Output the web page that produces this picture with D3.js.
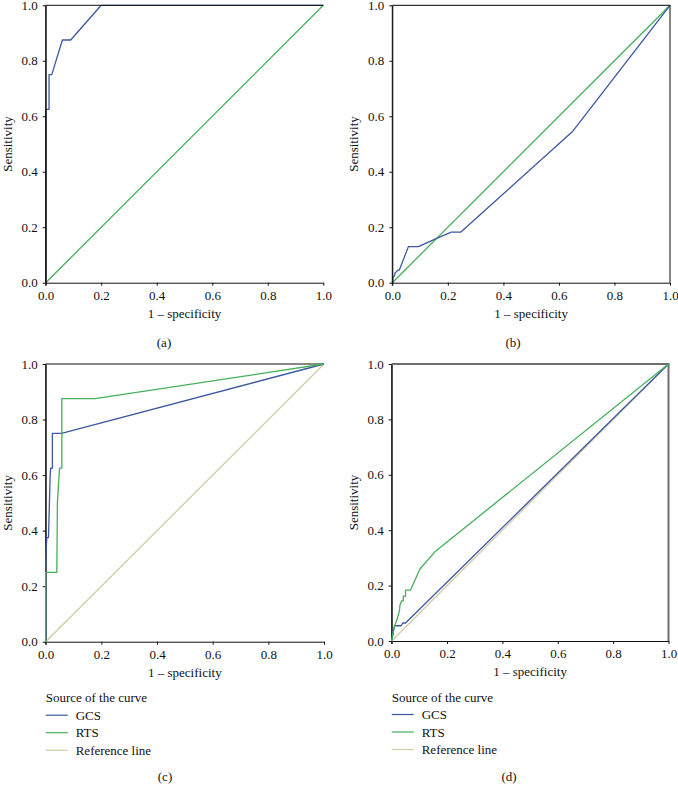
<!DOCTYPE html>
<html>
<head>
<meta charset="utf-8">
<script src="https://cdn.jsdelivr.net/npm/d3@7"></script>
<style>
  html, body { margin: 0; padding: 0; background: #fff; }
  svg { display: block; }
  text { font-family: "Liberation Serif", "DejaVu Serif", serif; fill: #111; }
</style>
</head>
<body>
<svg id="chart" width="678" height="794"></svg>
<script>
// ---------- DATA ----------
const tickValues = [0, 0.2, 0.4, 0.6, 0.8, 1.0];
const xTitle = "1 \u2013 specificity";
const yTitle = "Sensitivity";
const panelLabels = ["(a)", "(b)", "(c)", "(d)"];
const legendTitle = "Source of the curve";
const seriesNames = ["GCS", "RTS", "Reference line"];

// Panel (a): GCS curve + reference diagonal
const a_gcs_fpr = [0, 0, 0.012, 0.012, 0.022, 0.06, 0.09, 0.2, 1];
const a_gcs_tpr = [0, 0.625, 0.625, 0.75, 0.75, 0.875, 0.875, 1, 1];

// Panel (b): RTS curve + reference diagonal
const b_rts_fpr = [0, 0.003, 0.008, 0.01, 0.015, 0.02, 0.025, 0.058, 0.094, 0.16, 0.212, 0.246, 0.648, 1];
const b_rts_tpr = [0, 0.02, 0.025, 0.035, 0.04, 0.045, 0.045, 0.13, 0.13, 0.16, 0.182, 0.182, 0.544, 1];

// Panel (c): GCS and RTS
const c_gcs_fpr = [0, 0, 0.004, 0.01, 0.016, 0.018, 0.024, 0.024, 0.057, 1];
const c_gcs_tpr = [0, 0.3, 0.375, 0.375, 0.6, 0.625, 0.625, 0.75, 0.75, 1];
const c_rts_fpr = [0, 0, 0.04, 0.042, 0.048, 0.05, 0.058, 0.058, 0.177, 1];
const c_rts_tpr = [0, 0.25, 0.25, 0.5, 0.6, 0.625, 0.625, 0.875, 0.875, 1];

// Panel (d): GCS and RTS
const d_gcs_fpr = [0, 0.01, 0.034, 0.04, 0.05, 1];
const d_gcs_tpr = [0, 0.055, 0.055, 0.065, 0.065, 1];
const d_rts_fpr = [0, 0.005, 0.012, 0.02, 0.028, 0.03, 0.036, 0.042, 0.042, 0.05, 0.05, 0.068, 0.102, 0.156, 1];
const d_rts_tpr = [0, 0.03, 0.058, 0.08, 0.11, 0.13, 0.145, 0.145, 0.162, 0.162, 0.184, 0.184, 0.26, 0.322, 1];

const diag_fpr = [0, 1];
const diag_tpr = [0, 1];

// ---------- STYLE ----------
const BLUE = "#3b58a0";
const GREEN = "#45b05a";
const TAN = "#cfcba6";

const zip = (xs, ys) => xs.map((x, i) => [x, ys[i]]);

const svg = d3.select("#chart");

const panels = [
  { label: panelLabels[0], left: 45.7, right: 323.3, top: 5.3, bottom: 282.7, capX: 164, capY: 342,
    axesOnTop: true, frame: "#111", frameW: 1, rightBorder: false,
    series: [ {d: zip(diag_fpr, diag_tpr), c: GREEN}, {d: zip(a_gcs_fpr, a_gcs_tpr), c: BLUE} ] },
  { label: panelLabels[1], left: 392.3, right: 670, top: 5.3, bottom: 282.7, capX: 513, capY: 342,
    axesOnTop: true, frame: "#333", frameW: 1.2, rightBorder: true,
    series: [ {d: zip(diag_fpr, diag_tpr), c: GREEN}, {d: zip(b_rts_fpr, b_rts_tpr), c: BLUE} ] },
  { label: panelLabels[2], left: 45.7, right: 324, top: 364, bottom: 641.7, capX: 165, capY: 776,
    axesOnTop: false, frame: "#111", frameW: 1, rightBorder: false, legend: true,
    series: [ {d: zip(diag_fpr, diag_tpr), c: TAN}, {d: zip(c_gcs_fpr, c_gcs_tpr), c: BLUE}, {d: zip(c_rts_fpr, c_rts_tpr), c: GREEN} ] },
  { label: panelLabels[3], left: 391.7, right: 668.5, top: 364, bottom: 641, capX: 509, capY: 776,
    axesOnTop: false, frame: "#6e6e6e", frameW: 2, rightBorder: true, legend: true,
    series: [ {d: zip(diag_fpr, diag_tpr), c: TAN}, {d: zip(d_gcs_fpr, d_gcs_tpr), c: BLUE}, {d: zip(d_rts_fpr, d_rts_tpr), c: GREEN} ] }
];

const FS = 13;

panels.forEach(p => {
  const x = d3.scaleLinear().domain([0, 1]).range([p.left, p.right]);
  const y = d3.scaleLinear().domain([0, 1]).range([p.bottom, p.top]);
  const g = svg.append("g");

  const drawAxes = () => {
    const ax = g.append("g").attr("transform", `translate(0,${p.bottom})`)
      .call(d3.axisBottom(x).tickValues(tickValues).tickFormat(d3.format(".1f")).tickSize(3).tickPadding(5).tickSizeOuter(0));
    const ay = g.append("g").attr("transform", `translate(${p.left},0)`)
      .call(d3.axisLeft(y).tickValues(tickValues).tickFormat(d3.format(".1f")).tickSize(3).tickPadding(5).tickSizeOuter(0));
    [ax, ay].forEach(a => {
      a.selectAll("path").attr("stroke", "#111").attr("stroke-width", 1);
      a.selectAll("line").attr("stroke", "#111");
      a.selectAll("text").style("font-family", "'Liberation Serif', serif").style("font-size", FS + "px").attr("fill", "#111");
    });
    g.append("line").attr("x1", p.left).attr("x2", p.left).attr("y1", p.top).attr("y2", p.bottom + 3).attr("stroke", "#111");
    g.append("line").attr("x1", p.left).attr("x2", p.right + (p.rightBorder ? p.frameW / 2 : 0)).attr("y1", p.top).attr("y2", p.top)
      .attr("stroke", p.frame).attr("stroke-width", p.frameW);
    if (p.rightBorder) {
      g.append("line").attr("x1", p.right).attr("x2", p.right).attr("y1", p.top).attr("y2", p.bottom)
        .attr("stroke", p.frame).attr("stroke-width", p.frameW);
    }
  };

  const drawSeries = () => {
    const line = d3.line().x(d => x(d[0])).y(d => y(d[1]));
    p.series.forEach(s => {
      g.append("path").datum(s.d).attr("d", line)
        .attr("fill", "none").attr("stroke", s.c).attr("stroke-width", 1.3).attr("stroke-linejoin", "round");
    });
  };

  if (p.axesOnTop) { drawSeries(); drawAxes(); } else { drawAxes(); drawSeries(); }

  g.append("text").attr("x", (p.left + p.right) / 2).attr("y", p.bottom + 35)
    .attr("text-anchor", "middle").style("font-size", FS + "px").text(xTitle);
  g.append("text").attr("transform", `translate(${p.left - 34},${(p.top + p.bottom) / 2}) rotate(-90)`)
    .attr("text-anchor", "middle").style("font-size", FS + "px").text(yTitle);

  if (p.legend) {
    const lx = p.left;
    const ly = p.bottom + 56;
    g.append("text").attr("x", lx).attr("y", ly + 4.5).style("font-size", FS + "px").text(legendTitle);
    const cols = [BLUE, GREEN, TAN];
    seriesNames.forEach((n, i) => {
      const yy = ly + 17.5 * (i + 1);
      g.append("line").attr("x1", lx).attr("x2", lx + 22).attr("y1", yy).attr("y2", yy)
        .attr("stroke", cols[i]).attr("stroke-width", 1.2);
      g.append("text").attr("x", lx + 30).attr("y", yy + 4.5).style("font-size", FS + "px").text(n);
    });
  }

  g.append("text").attr("x", p.capX).attr("y", p.capY + 4.5).attr("text-anchor", "middle")
    .style("font-size", FS + "px").text(p.label);
});
</script>
</body>
</html>
